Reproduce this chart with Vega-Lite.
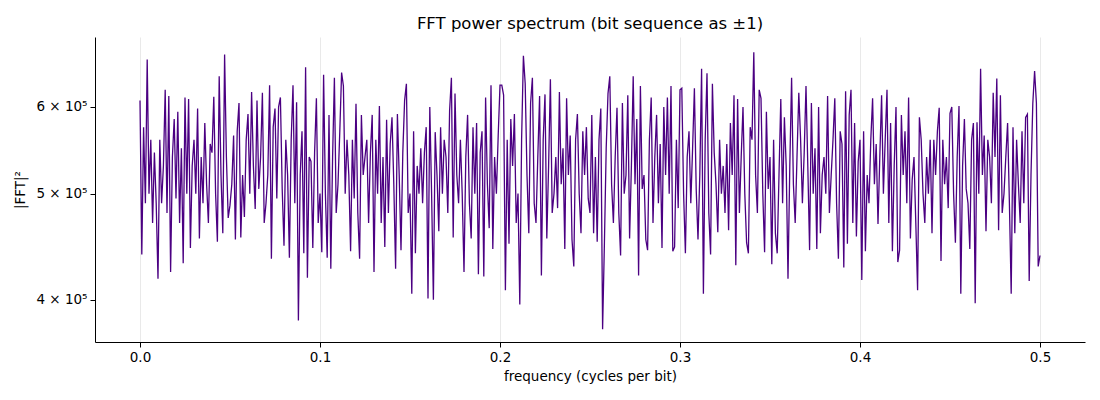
{
  "$schema": "https://vega.github.io/schema/vega-lite/v6.json",
  "width": 990,
  "height": 305,
  "autosize": {"type": "none"},
  "padding": {"left": 95, "top": 37, "right": 15, "bottom": 58},
  "background": "white",
  "title": {
    "text": "FFT power spectrum (bit sequence as ±1)",
    "font": "DejaVu Sans",
    "fontSize": 16.5,
    "fontWeight": "normal",
    "color": "black",
    "frame": "group",
    "anchor": "middle",
    "offset": 5
  },
  "data": {
    "values": [
      {"f":0.000,"p":608000},{"f":0.001,"p":440000},{"f":0.002,"p":575000},{"f":0.003,"p":490000},{"f":0.004,"p":663000},
      {"f":0.005,"p":500000},{"f":0.006,"p":560000},{"f":0.007,"p":470000},{"f":0.008,"p":545000},{"f":0.009,"p":490000},
      {"f":0.010,"p":418000},{"f":0.011,"p":560000},{"f":0.012,"p":490000},{"f":0.013,"p":530000},{"f":0.014,"p":622000},
      {"f":0.015,"p":480000},{"f":0.016,"p":614000},{"f":0.017,"p":424000},{"f":0.018,"p":540000},{"f":0.019,"p":585000},
      {"f":0.020,"p":495000},{"f":0.021,"p":594000},{"f":0.022,"p":470000},{"f":0.023,"p":550000},{"f":0.024,"p":432000},
      {"f":0.025,"p":612000},{"f":0.026,"p":500000},{"f":0.027,"p":610000},{"f":0.028,"p":446000},{"f":0.029,"p":530000},
      {"f":0.030,"p":560000},{"f":0.031,"p":500000},{"f":0.032,"p":598000},{"f":0.033,"p":455000},{"f":0.034,"p":540000},
      {"f":0.035,"p":490000},{"f":0.036,"p":580000},{"f":0.037,"p":510000},{"f":0.038,"p":470000},{"f":0.039,"p":555000},
      {"f":0.040,"p":545000},{"f":0.041,"p":613000},{"f":0.042,"p":500000},{"f":0.043,"p":452000},{"f":0.044,"p":640000},
      {"f":0.045,"p":520000},{"f":0.046,"p":460000},{"f":0.047,"p":670000},{"f":0.048,"p":540000},{"f":0.049,"p":475000},
      {"f":0.050,"p":488000},{"f":0.051,"p":510000},{"f":0.052,"p":565000},{"f":0.053,"p":454000},{"f":0.054,"p":570000},
      {"f":0.055,"p":605000},{"f":0.056,"p":456000},{"f":0.057,"p":520000},{"f":0.058,"p":476000},{"f":0.059,"p":560000},
      {"f":0.060,"p":591000},{"f":0.061,"p":500000},{"f":0.062,"p":619000},{"f":0.063,"p":530000},{"f":0.064,"p":484000},
      {"f":0.065,"p":608000},{"f":0.066,"p":505000},{"f":0.067,"p":540000},{"f":0.068,"p":618000},{"f":0.069,"p":470000},
      {"f":0.070,"p":490000},{"f":0.071,"p":520000},{"f":0.072,"p":628000},{"f":0.073,"p":436000},{"f":0.074,"p":575000},
      {"f":0.075,"p":598000},{"f":0.076,"p":495000},{"f":0.077,"p":600000},{"f":0.078,"p":612000},{"f":0.079,"p":505000},
      {"f":0.080,"p":448000},{"f":0.081,"p":560000},{"f":0.082,"p":520000},{"f":0.083,"p":437000},{"f":0.084,"p":560000},
      {"f":0.085,"p":628000},{"f":0.086,"p":490000},{"f":0.087,"p":606000},{"f":0.088,"p":383000},{"f":0.089,"p":520000},
      {"f":0.090,"p":570000},{"f":0.091,"p":441000},{"f":0.092,"p":652000},{"f":0.093,"p":419000},{"f":0.094,"p":540000},
      {"f":0.095,"p":535000},{"f":0.096,"p":446000},{"f":0.097,"p":545000},{"f":0.098,"p":611000},{"f":0.099,"p":470000},
      {"f":0.100,"p":500000},{"f":0.101,"p":442000},{"f":0.102,"p":642000},{"f":0.103,"p":500000},{"f":0.104,"p":437000},
      {"f":0.105,"p":590000},{"f":0.106,"p":427000},{"f":0.107,"p":540000},{"f":0.108,"p":638000},{"f":0.109,"p":480000},
      {"f":0.110,"p":510000},{"f":0.111,"p":570000},{"f":0.112,"p":645000},{"f":0.113,"p":627000},{"f":0.114,"p":500000},
      {"f":0.115,"p":560000},{"f":0.116,"p":520000},{"f":0.117,"p":443000},{"f":0.118,"p":560000},{"f":0.119,"p":495000},
      {"f":0.120,"p":604000},{"f":0.121,"p":480000},{"f":0.122,"p":436000},{"f":0.123,"p":590000},{"f":0.124,"p":520000},
      {"f":0.125,"p":540000},{"f":0.126,"p":560000},{"f":0.127,"p":470000},{"f":0.128,"p":545000},{"f":0.129,"p":590000},
      {"f":0.130,"p":424000},{"f":0.131,"p":560000},{"f":0.132,"p":500000},{"f":0.133,"p":601000},{"f":0.134,"p":470000},
      {"f":0.135,"p":540000},{"f":0.136,"p":447000},{"f":0.137,"p":584000},{"f":0.138,"p":480000},{"f":0.139,"p":555000},
      {"f":0.140,"p":587000},{"f":0.141,"p":510000},{"f":0.142,"p":427000},{"f":0.143,"p":591000},{"f":0.144,"p":520000},
      {"f":0.145,"p":444000},{"f":0.146,"p":545000},{"f":0.147,"p":608000},{"f":0.148,"p":630000},{"f":0.149,"p":480000},
      {"f":0.150,"p":500000},{"f":0.151,"p":405000},{"f":0.152,"p":570000},{"f":0.153,"p":441000},{"f":0.154,"p":530000},
      {"f":0.155,"p":500000},{"f":0.156,"p":550000},{"f":0.157,"p":490000},{"f":0.158,"p":545000},{"f":0.159,"p":575000},
      {"f":0.160,"p":401000},{"f":0.161,"p":600000},{"f":0.162,"p":500000},{"f":0.163,"p":400000},{"f":0.164,"p":569000},
      {"f":0.165,"p":520000},{"f":0.166,"p":462000},{"f":0.167,"p":575000},{"f":0.168,"p":500000},{"f":0.169,"p":560000},
      {"f":0.170,"p":540000},{"f":0.171,"p":480000},{"f":0.172,"p":595000},{"f":0.173,"p":638000},{"f":0.174,"p":456000},
      {"f":0.175,"p":617000},{"f":0.176,"p":520000},{"f":0.177,"p":490000},{"f":0.178,"p":560000},{"f":0.179,"p":500000},
      {"f":0.180,"p":424000},{"f":0.181,"p":540000},{"f":0.182,"p":590000},{"f":0.183,"p":490000},{"f":0.184,"p":455000},
      {"f":0.185,"p":575000},{"f":0.186,"p":500000},{"f":0.187,"p":580000},{"f":0.188,"p":422000},{"f":0.189,"p":545000},
      {"f":0.190,"p":570000},{"f":0.191,"p":420000},{"f":0.192,"p":612000},{"f":0.193,"p":510000},{"f":0.194,"p":465000},
      {"f":0.195,"p":628000},{"f":0.196,"p":445000},{"f":0.197,"p":540000},{"f":0.198,"p":500000},{"f":0.199,"p":565000},
      {"f":0.200,"p":628000},{"f":0.201,"p":628000},{"f":0.202,"p":615000},{"f":0.203,"p":408000},{"f":0.204,"p":560000},
      {"f":0.205,"p":450000},{"f":0.206,"p":585000},{"f":0.207,"p":530000},{"f":0.208,"p":591000},{"f":0.209,"p":470000},
      {"f":0.210,"p":500000},{"f":0.211,"p":396000},{"f":0.212,"p":560000},{"f":0.213,"p":668000},{"f":0.214,"p":630000},
      {"f":0.215,"p":520000},{"f":0.216,"p":460000},{"f":0.217,"p":605000},{"f":0.218,"p":638000},{"f":0.219,"p":490000},
      {"f":0.220,"p":470000},{"f":0.221,"p":540000},{"f":0.222,"p":614000},{"f":0.223,"p":421000},{"f":0.224,"p":560000},
      {"f":0.225,"p":616000},{"f":0.226,"p":455000},{"f":0.227,"p":530000},{"f":0.228,"p":636000},{"f":0.229,"p":480000},
      {"f":0.230,"p":500000},{"f":0.231,"p":540000},{"f":0.232,"p":485000},{"f":0.233,"p":619000},{"f":0.234,"p":510000},
      {"f":0.235,"p":550000},{"f":0.236,"p":445000},{"f":0.237,"p":611000},{"f":0.238,"p":520000},{"f":0.239,"p":565000},
      {"f":0.240,"p":454000},{"f":0.241,"p":429000},{"f":0.242,"p":560000},{"f":0.243,"p":591000},{"f":0.244,"p":500000},
      {"f":0.245,"p":460000},{"f":0.246,"p":570000},{"f":0.247,"p":520000},{"f":0.248,"p":575000},{"f":0.249,"p":495000},
      {"f":0.250,"p":480000},{"f":0.251,"p":590000},{"f":0.252,"p":460000},{"f":0.253,"p":540000},{"f":0.254,"p":452000},
      {"f":0.255,"p":560000},{"f":0.256,"p":598000},{"f":0.257,"p":376000},{"f":0.258,"p":450000},{"f":0.259,"p":550000},
      {"f":0.260,"p":617000},{"f":0.261,"p":640000},{"f":0.262,"p":510000},{"f":0.263,"p":470000},{"f":0.264,"p":540000},
      {"f":0.265,"p":599000},{"f":0.266,"p":480000},{"f":0.267,"p":439000},{"f":0.268,"p":605000},{"f":0.269,"p":500000},
      {"f":0.270,"p":520000},{"f":0.271,"p":615000},{"f":0.272,"p":455000},{"f":0.273,"p":530000},{"f":0.274,"p":640000},
      {"f":0.275,"p":510000},{"f":0.276,"p":585000},{"f":0.277,"p":421000},{"f":0.278,"p":627000},{"f":0.279,"p":505000},
      {"f":0.280,"p":520000},{"f":0.281,"p":454000},{"f":0.282,"p":444000},{"f":0.283,"p":560000},{"f":0.284,"p":612000},
      {"f":0.285,"p":470000},{"f":0.286,"p":540000},{"f":0.287,"p":590000},{"f":0.288,"p":490000},{"f":0.289,"p":555000},
      {"f":0.290,"p":446000},{"f":0.291,"p":600000},{"f":0.292,"p":520000},{"f":0.293,"p":612000},{"f":0.294,"p":500000},
      {"f":0.295,"p":627000},{"f":0.296,"p":443000},{"f":0.297,"p":447000},{"f":0.298,"p":560000},{"f":0.299,"p":485000},
      {"f":0.300,"p":622000},{"f":0.301,"p":624000},{"f":0.302,"p":500000},{"f":0.303,"p":441000},{"f":0.304,"p":540000},
      {"f":0.305,"p":570000},{"f":0.306,"p":490000},{"f":0.307,"p":550000},{"f":0.308,"p":624000},{"f":0.309,"p":505000},
      {"f":0.310,"p":454000},{"f":0.311,"p":520000},{"f":0.312,"p":650000},{"f":0.313,"p":405000},{"f":0.314,"p":560000},
      {"f":0.315,"p":644000},{"f":0.316,"p":480000},{"f":0.317,"p":440000},{"f":0.318,"p":630000},{"f":0.319,"p":545000},
      {"f":0.320,"p":510000},{"f":0.321,"p":461000},{"f":0.322,"p":560000},{"f":0.323,"p":500000},{"f":0.324,"p":530000},
      {"f":0.325,"p":480000},{"f":0.326,"p":555000},{"f":0.327,"p":463000},{"f":0.328,"p":580000},{"f":0.329,"p":520000},
      {"f":0.330,"p":615000},{"f":0.331,"p":430000},{"f":0.332,"p":610000},{"f":0.333,"p":480000},{"f":0.334,"p":540000},
      {"f":0.335,"p":600000},{"f":0.336,"p":500000},{"f":0.337,"p":451000},{"f":0.338,"p":441000},{"f":0.339,"p":575000},
      {"f":0.340,"p":560000},{"f":0.341,"p":673000},{"f":0.342,"p":520000},{"f":0.343,"p":480000},{"f":0.344,"p":622000},
      {"f":0.345,"p":611000},{"f":0.346,"p":500000},{"f":0.347,"p":442000},{"f":0.348,"p":594000},{"f":0.349,"p":505000},
      {"f":0.350,"p":540000},{"f":0.351,"p":431000},{"f":0.352,"p":560000},{"f":0.353,"p":460000},{"f":0.354,"p":441000},
      {"f":0.355,"p":520000},{"f":0.356,"p":610000},{"f":0.357,"p":490000},{"f":0.358,"p":587000},{"f":0.359,"p":530000},
      {"f":0.360,"p":418000},{"f":0.361,"p":530000},{"f":0.362,"p":638000},{"f":0.363,"p":510000},{"f":0.364,"p":470000},
      {"f":0.365,"p":540000},{"f":0.366,"p":618000},{"f":0.367,"p":560000},{"f":0.368,"p":490000},{"f":0.369,"p":545000},
      {"f":0.370,"p":627000},{"f":0.371,"p":530000},{"f":0.372,"p":444000},{"f":0.373,"p":605000},{"f":0.374,"p":500000},
      {"f":0.375,"p":550000},{"f":0.376,"p":445000},{"f":0.377,"p":600000},{"f":0.378,"p":460000},{"f":0.379,"p":520000},
      {"f":0.380,"p":540000},{"f":0.381,"p":500000},{"f":0.382,"p":614000},{"f":0.383,"p":480000},{"f":0.384,"p":520000},
      {"f":0.385,"p":560000},{"f":0.386,"p":611000},{"f":0.387,"p":490000},{"f":0.388,"p":436000},{"f":0.389,"p":570000},
      {"f":0.390,"p":555000},{"f":0.391,"p":428000},{"f":0.392,"p":620000},{"f":0.393,"p":450000},{"f":0.394,"p":590000},
      {"f":0.395,"p":622000},{"f":0.396,"p":470000},{"f":0.397,"p":580000},{"f":0.398,"p":457000},{"f":0.399,"p":535000},
      {"f":0.400,"p":560000},{"f":0.401,"p":417000},{"f":0.402,"p":570000},{"f":0.403,"p":443000},{"f":0.404,"p":520000},
      {"f":0.405,"p":490000},{"f":0.406,"p":560000},{"f":0.407,"p":611000},{"f":0.408,"p":510000},{"f":0.409,"p":555000},
      {"f":0.410,"p":469000},{"f":0.411,"p":540000},{"f":0.412,"p":615000},{"f":0.413,"p":500000},{"f":0.414,"p":560000},
      {"f":0.415,"p":622000},{"f":0.416,"p":470000},{"f":0.417,"p":580000},{"f":0.418,"p":443000},{"f":0.419,"p":530000},
      {"f":0.420,"p":600000},{"f":0.421,"p":433000},{"f":0.422,"p":444000},{"f":0.423,"p":590000},{"f":0.424,"p":520000},
      {"f":0.425,"p":570000},{"f":0.426,"p":490000},{"f":0.427,"p":612000},{"f":0.428,"p":455000},{"f":0.429,"p":515000},
      {"f":0.430,"p":540000},{"f":0.431,"p":470000},{"f":0.432,"p":408000},{"f":0.433,"p":587000},{"f":0.434,"p":560000},
      {"f":0.435,"p":500000},{"f":0.436,"p":470000},{"f":0.437,"p":540000},{"f":0.438,"p":500000},{"f":0.439,"p":560000},
      {"f":0.440,"p":460000},{"f":0.441,"p":560000},{"f":0.442,"p":520000},{"f":0.443,"p":570000},{"f":0.444,"p":599000},
      {"f":0.445,"p":434000},{"f":0.446,"p":560000},{"f":0.447,"p":510000},{"f":0.448,"p":540000},{"f":0.449,"p":485000},
      {"f":0.450,"p":592000},{"f":0.451,"p":600000},{"f":0.452,"p":500000},{"f":0.453,"p":451000},{"f":0.454,"p":540000},
      {"f":0.455,"p":601000},{"f":0.456,"p":405000},{"f":0.457,"p":530000},{"f":0.458,"p":585000},{"f":0.459,"p":505000},
      {"f":0.460,"p":490000},{"f":0.461,"p":445000},{"f":0.462,"p":560000},{"f":0.463,"p":580000},{"f":0.464,"p":397000},
      {"f":0.465,"p":581000},{"f":0.466,"p":500000},{"f":0.467,"p":650000},{"f":0.468,"p":520000},{"f":0.469,"p":565000},
      {"f":0.470,"p":462000},{"f":0.471,"p":560000},{"f":0.472,"p":540000},{"f":0.473,"p":490000},{"f":0.474,"p":618000},
      {"f":0.475,"p":540000},{"f":0.476,"p":637000},{"f":0.477,"p":463000},{"f":0.478,"p":615000},{"f":0.479,"p":480000},
      {"f":0.480,"p":500000},{"f":0.481,"p":540000},{"f":0.482,"p":580000},{"f":0.483,"p":490000},{"f":0.484,"p":405000},
      {"f":0.485,"p":575000},{"f":0.486,"p":460000},{"f":0.487,"p":560000},{"f":0.488,"p":510000},{"f":0.489,"p":470000},
      {"f":0.490,"p":570000},{"f":0.491,"p":490000},{"f":0.492,"p":587000},{"f":0.493,"p":591000},{"f":0.494,"p":416000},
      {"f":0.495,"p":520000},{"f":0.496,"p":604000},{"f":0.497,"p":647000},{"f":0.498,"p":605000},{"f":0.499,"p":429000},
      {"f":0.500,"p":439000}
    ]
  },
  "mark": {"type": "line", "color": "#4b0082", "strokeWidth": 1.3, "clip": true},
  "encoding": {
    "x": {
      "field": "f",
      "type": "quantitative",
      "scale": {"domain": [-0.025, 0.525], "nice": false, "zero": false},
      "axis": {
        "title": "frequency (cycles per bit)",
        "values": [0, 0.1, 0.2, 0.3, 0.4, 0.5],
        "format": ".1f",
        "grid": true,
        "gridColor": "#e3e3e3",
        "gridWidth": 0.8,
        "labelPadding": 3,
        "titlePadding": 6
      }
    },
    "y": {
      "field": "p",
      "type": "quantitative",
      "scale": {"type": "log", "domain": [366000, 695000], "nice": false},
      "axis": {
        "title": "|FFT|²",
        "values": [400000, 500000, 600000],
        "labelExpr": "format(datum.value / 100000, 'd') + ' × 10⁵'",
        "grid": false,
        "labelPadding": 3,
        "titlePadding": 8
      }
    }
  },
  "config": {
    "view": {"stroke": null},
    "axis": {
      "domainColor": "black",
      "domainWidth": 1,
      "tickColor": "black",
      "tickWidth": 1,
      "tickSize": 5,
      "labelColor": "black",
      "titleColor": "black",
      "labelFont": "DejaVu Sans",
      "titleFont": "DejaVu Sans",
      "labelFontSize": 13.5,
      "titleFontSize": 13.5,
      "titleFontWeight": "normal"
    }
  }
}
